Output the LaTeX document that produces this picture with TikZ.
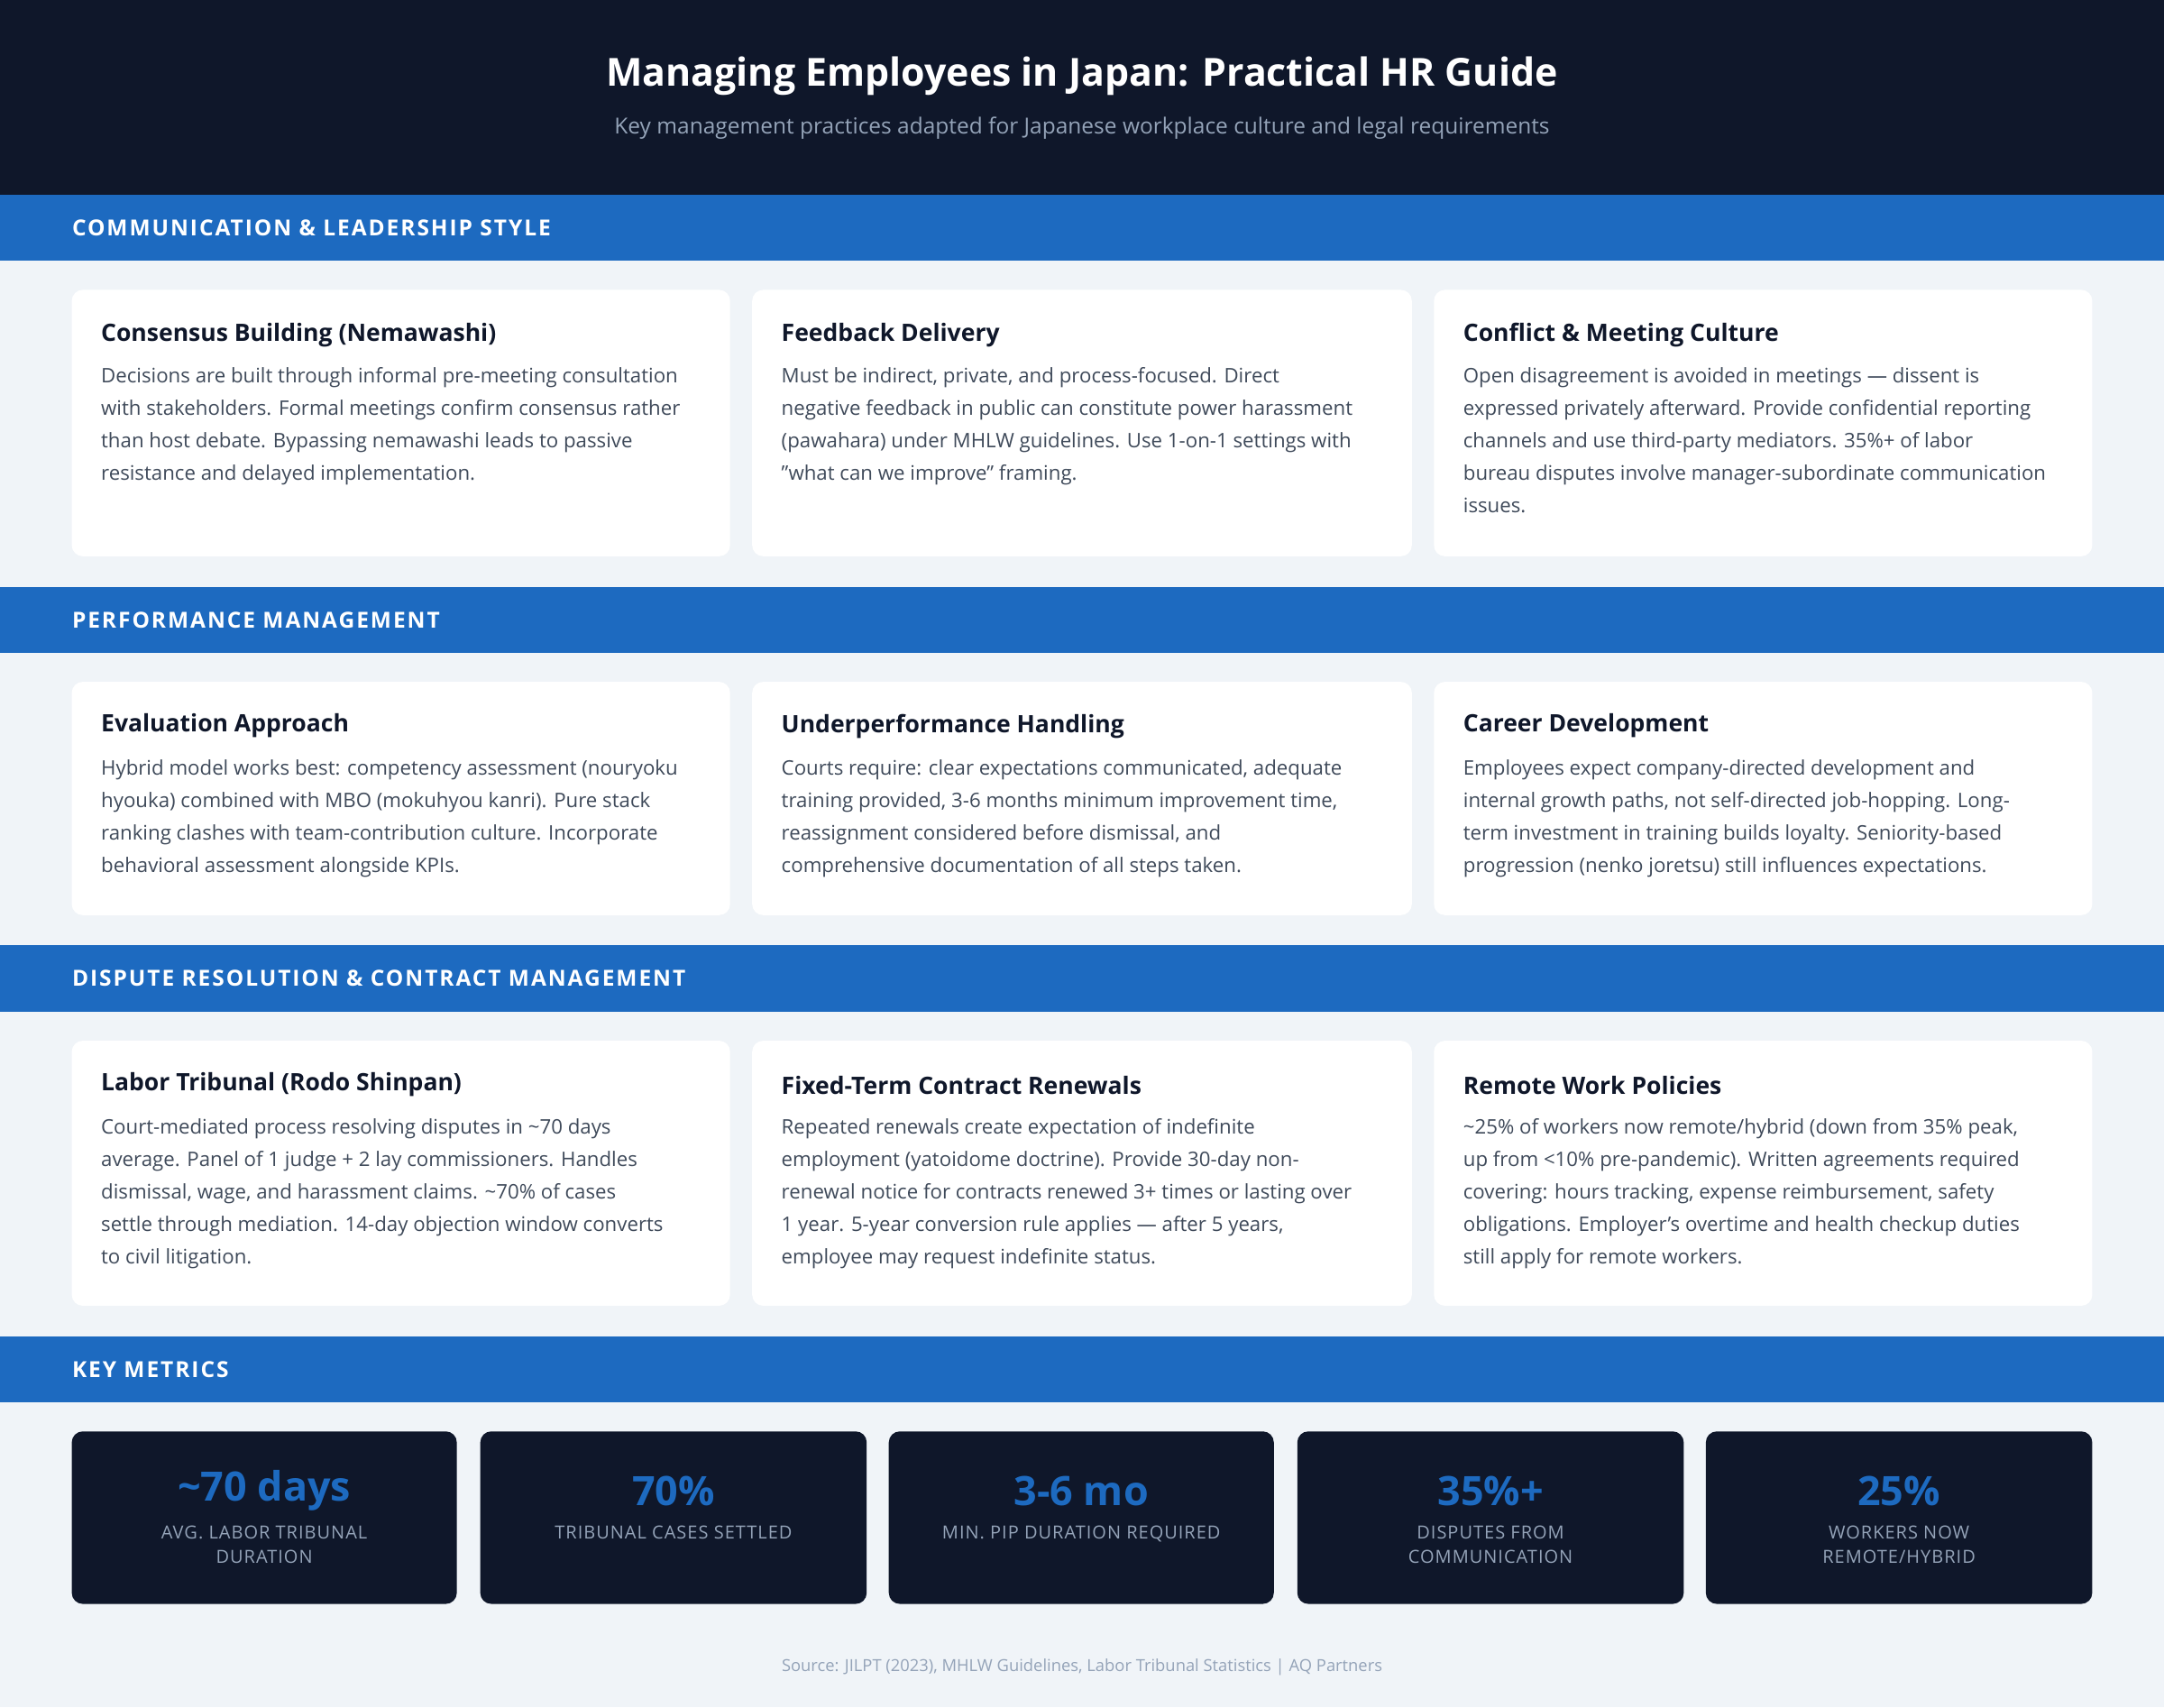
\documentclass[tikz,border=0pt]{standalone}
\usepackage{fontspec}
\setmainfont{Open Sans}
\definecolor{navy}{HTML}{0F172A}
\definecolor{bar}{HTML}{1D6AC0}
\definecolor{bg}{HTML}{F0F4F8}
\definecolor{body}{HTML}{3F4A5A}
\definecolor{sub}{HTML}{94A3B8}
\definecolor{metric}{HTML}{1D6AC0}
\tikzset{
 card/.style={fill=white,rounded corners=6},
 mbox/.style={fill=navy,rounded corners=6},
 sect/.style={anchor=west,inner sep=0,text=white,font=\fontsize{12}{14}\selectfont\bfseries\addfontfeature{LetterSpace=8}},
 ctitle/.style={anchor=west,inner sep=0,text=navy,font=\fontsize{13}{16}\selectfont\bfseries},
 cbody/.style={anchor=north west,inner sep=0,align=left,text=body,font=\fontsize{10.9}{17.7}\selectfont},
 mval/.style={anchor=center,inner sep=0,text=metric,font=\fontsize{22}{26}\selectfont\bfseries},
 mlab/.style={anchor=north,inner sep=0,align=center,text=sub,font=\fontsize{9.8}{13.5}\selectfont\addfontfeature{LetterSpace=5}},
}
\begin{document}
\begin{tikzpicture}[x=0.75pt,y=-0.75pt]
\fill[bg] (0,0) rectangle (1568,1237);
\useasboundingbox (0,0) rectangle (1568,1237);
\fill[navy] (0,0) rectangle (1568,141);
\node[inner sep=0,text=white,font=\fontsize{21}{24}\selectfont\bfseries] (title) at (784,55) {Managing Employees in Japan: Practical HR Guide};
\node[inner sep=0,text=sub,font=\fontsize{12}{14}\selectfont] (subtitle) at (784,93) {Key management practices adapted for Japanese workplace culture and legal requirements};
% section bars
\fill[bar] (0,141) rectangle (1568,189);
\node[sect] (s1) at (52,165) {COMMUNICATION \& LEADERSHIP STYLE};
\fill[bar] (0,425) rectangle (1568,473);
\node[sect] (s2) at (52,449) {PERFORMANCE MANAGEMENT};
\fill[bar] (0,685) rectangle (1568,733);
\node[sect] (s3) at (52,709) {DISPUTE RESOLUTION \& CONTRACT MANAGEMENT};
\fill[bar] (0,968) rectangle (1568,1016);
\node[sect] (s4) at (52,992) {KEY METRICS};
% row 1
\fill[card] (52,210) rectangle (529,403);
\fill[card] (545,210) rectangle (1023,403);
\fill[card] (1039,210) rectangle (1516,403);
\node[ctitle] (c11) at (73,243) {Consensus Building (Nemawashi)};
\node[cbody] (b11) at (73,266) {Decisions are built through informal pre-meeting consultation\\with stakeholders. Formal meetings confirm consensus rather\\than host debate. Bypassing nemawashi leads to passive\\resistance and delayed implementation.};
\node[ctitle] (c12) at (566,243) {Feedback Delivery};
\node[cbody] (b12) at (566,266) {Must be indirect, private, and process-focused. Direct\\negative feedback in public can constitute power harassment\\(pawahara) under MHLW guidelines. Use 1-on-1 settings with\\"what can we improve" framing.};
\node[ctitle] (c13) at (1060,243) {Conflict \& Meeting Culture};
\node[cbody] (b13) at (1060,266) {Open disagreement is avoided in meetings — dissent is\\expressed privately afterward. Provide confidential reporting\\channels and use third-party mediators. 35\%+ of labor\\bureau disputes involve manager-subordinate communication\\issues.};
% row 2
\fill[card] (52,494) rectangle (529,663);
\fill[card] (545,494) rectangle (1023,663);
\fill[card] (1039,494) rectangle (1516,663);
\node[ctitle] (c21) at (73,526) {Evaluation Approach};
\node[cbody] (b21) at (73,550) {Hybrid model works best: competency assessment (nouryoku\\hyouka) combined with MBO (mokuhyou kanri). Pure stack\\ranking clashes with team-contribution culture. Incorporate\\behavioral assessment alongside KPIs.};
\node[ctitle] (c22) at (566,526) {Underperformance Handling};
\node[cbody] (b22) at (566,550) {Courts require: clear expectations communicated, adequate\\training provided, 3-6 months minimum improvement time,\\reassignment considered before dismissal, and\\comprehensive documentation of all steps taken.};
\node[ctitle] (c23) at (1060,526) {Career Development};
\node[cbody] (b23) at (1060,550) {Employees expect company-directed development and\\internal growth paths, not self-directed job-hopping. Long-\\term investment in training builds loyalty. Seniority-based\\progression (nenko joretsu) still influences expectations.};
% row 3
\fill[card] (52,754) rectangle (529,946);
\fill[card] (545,754) rectangle (1023,946);
\fill[card] (1039,754) rectangle (1516,946);
\node[ctitle] (c31) at (73,786) {Labor Tribunal (Rodo Shinpan)};
\node[cbody] (b31) at (73,810) {Court-mediated process resolving disputes in \textasciitilde70 days\\average. Panel of 1 judge + 2 lay commissioners. Handles\\dismissal, wage, and harassment claims. \textasciitilde70\% of cases\\settle through mediation. 14-day objection window converts\\to civil litigation.};
\node[ctitle] (c32) at (566,786) {Fixed-Term Contract Renewals};
\node[cbody] (b32) at (566,810) {Repeated renewals create expectation of indefinite\\employment (yatoidome doctrine). Provide 30-day non-\\renewal notice for contracts renewed 3+ times or lasting over\\1 year. 5-year conversion rule applies — after 5 years,\\employee may request indefinite status.};
\node[ctitle] (c33) at (1060,786) {Remote Work Policies};
\node[cbody] (b33) at (1060,810) {\textasciitilde25\% of workers now remote/hybrid (down from 35\% peak,\\up from <10\% pre-pandemic). Written agreements required\\covering: hours tracking, expense reimbursement, safety\\obligations. Employer's overtime and health checkup duties\\still apply for remote workers.};
% metrics
\foreach \xa/\xb/\v/\l [count=\i] in {52/331/{\textasciitilde70 days}/{AVG. LABOR TRIBUNAL\\DURATION},348/628/{70\%}/{TRIBUNAL CASES SETTLED},644/923/{3-6 mo}/{MIN. PIP DURATION REQUIRED},940/1220/{35\%+}/{DISPUTES FROM\\COMMUNICATION},1236/1516/{25\%}/{WORKERS NOW\\REMOTE/HYBRID}}{
 \fill[mbox] (\xa,1037) rectangle (\xb,1162);
 \node[mval] (mv\i) at ({(\xa+\xb)/2},1080) {\v};
 \node[mlab] (ml\i) at ({(\xa+\xb)/2},1105) {\l};
}
\node[inner sep=0,text=sub,font=\fontsize{9}{11}\selectfont] (src) at (784,1208) {Source: JILPT (2023), MHLW Guidelines, Labor Tribunal Statistics | AQ Partners};
\end{tikzpicture}
\end{document}
